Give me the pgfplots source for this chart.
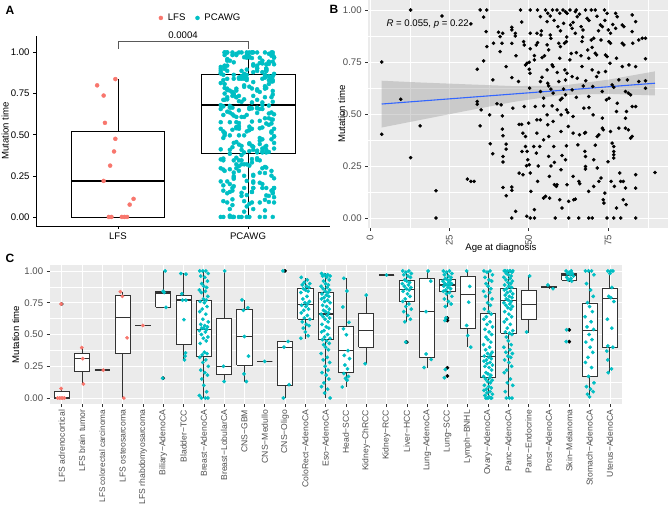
\documentclass[border=0pt]{standalone}
\usepackage{fontspec}
\setmainfont{Liberation Sans}
\usepackage{pgfplots}
\usepackage{pgfplotstable}
\pgfplotsset{compat=1.18}

\definecolor{lfsred}{HTML}{F8766D}
\definecolor{pcteal}{HTML}{00BFC4}
\definecolor{ggbg}{HTML}{EBEBEB}
\definecolor{gg30}{HTML}{4D4D4D}
\definecolor{ggline}{HTML}{333333}
\definecolor{ggblue}{HTML}{3366FF}
\newcommand{\gfont}{\fontsize{9.6}{11}\selectfont}

%% PCAWG samples: age at diagnosis, mutation time, jitter position for panel A
\pgfplotstableread{
age mt jx
3.7 .75 1.82
3.7 .403 2.07
9.7 .571 1.93
12.8 1.0 2.18
12.8 .29 1.86
15.8 .443 2.01
20.8 .131 2.14
20.8 0 1.79
22.7 .971 1.97
31.8 .933 2.11
30.7 .187 1.89
31.8 .176 2.20
32.8 .176 2.04
33.8 .715 1.84
33.8 .56 2.16
33.8 .547 1.91
34.7 .443 2.09
34.7 1.0 1.95
36.8 1.0 2.13
35 .52 1.81
35.8 .966 2.03
35.8 .755 1.88
36.8 .824 2.19
36.6 .896 1.99
37.7 .496 1.82
37.9 .357 2.07
38.7 .309 1.93
38.9 .84 2.18
38.7 .664 1.86
40 .549 2.01
40.5 .893 2.14
41 .872 1.79
41 .80 1.97
41.3 .544 2.11
41.6 .84 1.89
41.7 .491 2.20
41.7 .427 2.04
41.8 .888 1.84
41.9 .395 2.16
41.9 .296 1.91
41.9 .269 2.09
41.9 .147 1.95
42.9 .728 2.13
42.9 .355 1.81
42.9 .331 2.03
42.9 .107 1.88
44.7 .149 2.19
44.7 .133 1.99
44.7 .917 1.82
44.7 .904 2.07
44.7 0 1.93
44.7 .84 2.18
44.7 .675 1.86
45 .528 2.01
45.8 .888 2.14
45.8 .875 1.79
45.9 .032 1.97
46.8 .656 2.11
47 .45 1.89
47.8 .45 2.20
47 .216 2.04
47.4 1.0 1.84
47.8 .942 2.16
47.9 .32 1.91
48.2 .208 2.09
48.2 .408 1.95
48.4 .848 2.13
48.6 .832 1.81
48.6 .536 2.03
49 .736 1.88
49.5 .744 2.19
49.5 .32 1.99
49.7 .28 1.82
49 .392 2.07
49 .344 1.93
49.3 .251 2.18
49.4 .008 1.86
50.5 1.0 2.01
50.5 .888 2.14
50.5 .814 1.79
50.2 .715 1.97
50.4 .696 2.11
50.2 .749 1.89
50.3 .624 2.20
50.2 .256 2.04
50.5 .216 1.84
50.7 .128 2.16
50 .456 1.91
50.5 0 2.09
51.8 0 1.95
51.8 .04 2.13
51.6 .344 1.81
51.8 .781 2.03
51.8 .76 1.88
52.4 .832 2.19
52.8 .843 1.99
52.8 1.0 1.82
52.6 .888 2.07
52.1 .536 1.93
52.6 .472 2.18
52.6 .408 1.86
52.4 .312 2.01
52.8 .176 2.14
53.7 .656 1.79
53.7 .608 1.97
53.7 .472 2.11
53.5 .344 1.89
53.7 .968 2.20
53.9 .88 2.04
54.2 .771 1.84
54.2 .677 2.16
54.7 .576 1.91
54.7 .539 2.09
54.7 .376 1.95
55.3 .104 2.13
54.7 .096 1.81
55.3 1.0 2.03
56 .984 1.88
55.8 .944 2.19
55.8 .832 1.99
56.3 .808 1.82
55.8 .712 2.07
56 .648 1.93
56.3 .635 2.18
55.8 .496 1.86
56 .448 2.01
56.3 .392 2.14
56.3 .296 1.79
56.6 .096 1.97
56.8 .88 2.11
57 .864 1.89
56.8 .971 2.20
57.4 .736 2.04
57.7 .728 1.84
57.7 .6 2.16
57.4 .539 1.91
57.7 .464 2.09
57.9 .344 1.95
58.1 .267 2.13
58.1 .16 1.81
58.7 .152 2.03
58.9 .16 1.88
58.4 0 2.19
58.9 1.0 1.99
59.8 .984 1.82
59.2 .92 2.07
59.5 .84 1.93
60 .824 2.18
59.8 .768 1.86
59.5 .656 2.01
60 .568 2.14
60.5 .576 1.79
60.2 .496 1.97
60.2 .416 2.11
60.2 .232 1.89
59.8 .088 2.20
60.5 .048 2.04
60.8 1.0 1.84
61.6 .992 2.16
62.1 .984 1.91
61 .936 2.09
61.3 .84 1.95
61.9 .848 2.13
61.4 .712 1.81
62.1 .696 2.03
61.6 .664 1.88
61.6 .592 2.19
61.9 .52 1.99
62.3 .507 1.82
61.9 .347 2.07
61.6 .28 1.93
62.1 .16 2.18
62.6 0 1.86
62.6 .08 2.01
63.2 .928 2.14
63.7 .912 1.79
63.4 .791 1.97
63.7 .68 2.11
63.7 .616 1.89
64 .488 2.20
64 .408 2.04
64.2 .088 1.84
64.7 .091 2.16
64.7 .992 1.91
65.3 .968 2.09
64.7 .888 1.95
65 .795 2.13
65.3 .672 1.81
65.5 .352 2.03
65.8 .176 1.88
66.1 .165 2.19
65.8 0 1.99
66.5 .92 1.82
67.1 .904 2.07
66.8 .848 1.93
66.8 .728 2.18
67.2 .635 1.86
67.4 .528 2.01
67.6 .408 2.14
67.9 .411 1.79
67.7 .32 1.97
67.9 .296 2.11
67.9 .248 1.89
67.9 .235 2.20
67.9 1.0 2.04
68.4 .96 1.84
68.6 .808 2.16
68.9 .768 1.91
68.9 .584 2.09
68.9 .128 1.95
68.9 0 2.13
70 0 1.81
69.7 1.0 2.03
71 1.0 1.88
69.7 .856 2.19
70.5 .864 1.99
70 .712 1.82
70.2 .632 2.07
70.3 .496 1.93
70.5 .28 2.18
70.5 .152 1.86
71 .792 2.01
71.4 .784 2.14
71.4 .68 1.79
71.6 .392 1.97
72.1 .4 2.11
71.6 .24 1.89
72.1 .176 2.20
72.6 .928 2.04
73.2 .92 1.84
72.8 .856 2.16
73.2 .608 1.91
73.2 .48 2.09
73.2 .432 1.95
73.5 .424 2.13
72.8 .192 1.81
73.5 .088 2.03
73.7 .072 1.88
73.9 1.0 2.19
74.7 .984 1.99
74.2 .784 1.82
74.7 .776 2.07
74.2 .704 1.93
74.5 .568 2.18
75.3 .576 1.86
74.7 0 2.01
75.1 .904 2.14
75.8 .888 1.79
75.3 .848 1.97
75.8 .84 2.11
75.6 .744 1.89
75.8 .416 2.20
76 .176 2.04
76.3 .64 1.84
76.8 .629 2.16
76.3 .36 1.91
76.8 .344 2.09
76.8 .32 1.95
76.8 .304 2.13
76.8 .288 1.81
77 .152 2.03
76.8 0 1.88
77.4 .984 2.19
77.9 .968 1.99
77.4 .912 1.82
77.7 .768 2.07
77.9 .552 1.93
77.7 .512 2.18
77.7 .048 1.86
78.4 .664 2.01
78.4 .432 2.14
78.7 .216 1.79
79 .176 1.97
79.8 .176 2.11
79 0 1.89
79.5 .928 2.20
80 .92 2.04
79.5 .84 1.84
80 .832 2.16
79.5 .728 1.91
79.8 .088 2.09
80.5 .608 1.95
81.4 .6 2.13
80.5 .48 1.81
80.5 .432 2.03
81.4 .424 1.88
80.5 .144 2.19
80.7 .064 1.99
80.8 .512 1.82
81.1 .664 2.07
81.6 .736 1.93
82.1 .592 2.18
82.1 .384 1.86
82.6 .976 2.01
82.6 .896 2.14
82.6 .536 1.79
82.8 .84 1.97
82.6 .392 2.11
83.7 0 1.89
83.7 .536 2.20
83.7 .208 2.04
83.7 .144 1.84
83.7 .944 2.16
83.7 .728 1.91
84.7 .656 2.09
84.7 .856 1.95
85.8 .864 2.13
86.8 .864 1.81
86.8 .66 2.03
86.8 .624 1.88
86.8 .766 2.19
89.8 .219 1.99
57.5 1.0 1.82
63 1.0 2.07
65 1.0 1.93
66 .98 2.18
69 .95 1.86
71.5 .97 2.01
72 .9 2.14
60 .9 1.79
62 .87 1.97
58 .95 2.11
64 .94 1.89
67 .87 2.20
70 .82 2.04
74 .95 1.84
76.5 .93 2.16
66.5 .78 1.91
63 .76 2.09
59 .7 1.95
55 .78 2.13
57 .62 1.81
65 .58 2.03
69 .53 1.88
72 .7 2.19
61 .62 1.99
54 .9 1.82
68 .66 2.07
62.5 .44 1.93
59 .52 2.18
56.5 .2 1.86
66 .4 2.01
60.5 .3 2.14
71 .35 1.79
53 .25 1.97
64 .2 2.11
75 .27 1.89
74 .12 2.20
57 .25 2.04
46 .78 1.84
}\pcawg

% box from prepared quartiles: position, half width, lw, q1, median, q3, uw
\def\boxcol{ggline}
\newcommand{\ggbox}[7]{%
  \pgfmathsetmacro{\bl}{#1-#2}\pgfmathsetmacro{\br}{#1+#2}%
  \edef\doit{%
    \noexpand\addplot[draw=\boxcol, line width=0.7pt, forget plot]
      coordinates {(#1,#3)(#1,#4)};
    \noexpand\addplot[draw=\boxcol, line width=0.7pt, forget plot]
      coordinates {(#1,#6)(#1,#7)};
    \noexpand\addplot[draw=\boxcol, fill=white, line width=0.7pt, forget plot]
      coordinates {(\bl,#4)(\br,#4)(\br,#6)(\bl,#6)(\bl,#4)};
    \noexpand\addplot[draw=\boxcol, line width=1.4pt, forget plot]
      coordinates {(\bl,#5)(\br,#5)};
  }\doit}

\pgfplotsset{
  ggtheme/.style={
    scale only axis, anchor=south west,
    axis background/.style={fill=ggbg},
    axis line style={draw=none},
    tick align=outside, major tick length=2.8pt, minor tick length=0pt,
    tick style={ggline, line width=0.5pt},
    xtick pos=left, ytick pos=left,
    tick label style={font=\gfont, text=gg30},
    label style={font=\gfont},
    major grid style={white, line width=0.6pt},
    minor grid style={white, line width=0.3pt},
    ymin=-0.05, ymax=1.05,
    ytick={0,0.25,0.5,0.75,1}, yticklabels={0.00,0.25,0.50,0.75,1.00},
    minor ytick={0.125,0.375,0.625,0.875},
  },
}

\begin{document}
\begin{tikzpicture}
\useasboundingbox (0,0) rectangle (668pt,506pt);

\node[font=\fontsize{12}{14}\selectfont\bfseries] at (10pt,496pt) {A};
\node[font=\fontsize{12}{14}\selectfont\bfseries] at (334pt,497pt) {B};
\node[font=\fontsize{12}{14}\selectfont\bfseries] at (10pt,248pt) {C};

%% A: LFS vs PCAWG
\begin{axis}[at={(36pt,280pt)}, anchor=south west, scale only axis,
  width=294pt, height=190pt,
  xmin=0.37, xmax=2.63, ymin=-0.055, ymax=1.10, clip=false,
  axis x line*=bottom, axis y line*=left,
  axis line style={-, line width=0.5pt},
  tick align=outside, major tick length=3pt, tick style={black, line width=0.5pt},
  xtick={1,2}, xticklabels={LFS,PCAWG},
  ytick={0,0.25,0.5,0.75,1}, yticklabels={0.00,0.25,0.50,0.75,1.00},
  tick label style={font=\gfont},
  ylabel={Mutation time},
  ylabel style={font=\gfont, at={(axis description cs:-0.105,0.5)}, anchor=center},
  legend style={at={(axis description cs:0.56,1.095)}, anchor=center,
    draw=none, fill=none, font=\gfont, legend columns=2,
    /tikz/every even column/.append style={column sep=8pt}},
]
\def\boxcol{black}
\ggbox{1}{0.36}{0}{0}{0.219}{0.521}{0.838}
\ggbox{2}{0.36}{0}{0.389}{0.681}{0.866}{1.0}
\addplot[only marks, mark=*, mark size=2pt, lfsred] coordinates {
  (0.98,.838)(0.84,.80)(0.89,.738)(0.90,.572)(0.98,.475)(0.97,.398)
  (0.94,.312)(0.89,.219)(1.12,.11)(1.09,.075)
  (0.93,0)(0.95,0)(1.03,0)(1.05,0)(1.07,0)};
\addlegendentry{\hspace{3pt}LFS}
\addplot[only marks, mark=*, mark size=2pt, pcteal] table[x=jx, y=mt] {\pcawg};
\addlegendentry{\hspace{3pt}PCAWG}
\draw[gray!70!black, line width=0.5pt] (axis cs:1,1.022) -- (axis cs:1,1.071)
  -- (axis cs:2,1.071) -- (axis cs:2,1.022);
\node[font=\gfont, above, inner sep=1.5pt] at (axis cs:1.5,1.071) {0.0004};
\end{axis}

%% B: age vs mutation time
\begin{axis}[ggtheme, at={(368pt,277.6pt)}, width=300pt, height=228.8pt,
  xmin=-0.63, xmax=93.9,
  xtick={0,25,50,75}, xticklabels={0,25,50,75},
  minor xtick={12.5,37.5,62.5,87.5},
  grid=both,
  xticklabel style={rotate=90, anchor=east},
  xlabel={Age at diagnosis},
  xlabel style={at={(axis description cs:0.443,-0.086)}, anchor=center},
  ylabel={Mutation time},
  ylabel style={at={(axis description cs:-0.088,0.5)}, anchor=center},
]
\addplot[only marks, mark=*, mark size=1.6pt, black] table[x=age, y=mt] {\pcawg};
\addplot[draw=none, fill=black!40, fill opacity=0.4] coordinates {
  (3.7,.435)(15,.469)(30,.514)(45,.5575)(60,.5912)(75,.597)(89.8,.589)
  (89.8,.705)(75,.6648)(60,.6356)(45,.6343)(30,.643)(15,.652)(3.7,.660)};
\addplot[ggblue, line width=1.1pt] coordinates {(3.7,.548)(89.8,.648)};
\node[anchor=west, font=\gfont] at (axis cs:4.1,0.93)
  {\textit{R} = 0.055, \textit{p} = 0.22};
\end{axis}

%% C: mutation time by tumour type
\begin{axis}[ggtheme, at={(49.5pt,101.6pt)}, width=572.5pt, height=139.8pt,
  xmin=0.4, xmax=28.6,
  xtick={1,...,28},
  xticklabels={LFS adrenocortical,LFS brain tumor,
    {\fontsize{8.2}{10}\selectfont LFS colorectal carcinoma},
    LFS osteosarcoma,LFS rhabdomyosarcoma,Biliary−AdenoCA,Bladder−TCC,
    Breast−AdenoCA,Breast−LobularCA,CNS−GBM,CNS−Medullo,CNS−Oligo,
    ColoRect−AdenoCA,Eso−AdenoCA,Head−SCC,Kidney−ChRCC,Kidney−RCC,
    Liver−HCC,Lung−AdenoCA,Lung−SCC,Lymph−BNHL,Ovary−AdenoCA,
    Panc−AdenoCA,Panc−Endocrine,Prost−AdenoCA,Skin−Melanoma,
    Stomach−AdenoCA,Uterus−AdenoCA},
  xticklabel style={rotate=90, anchor=east, inner sep=2.6pt,
    font=\fontsize{8.6}{10}\selectfont},
  xmajorgrids, ymajorgrids, yminorgrids,
  ylabel={Mutation time},
  ylabel style={at={(axis description cs:-0.059,0.5)}, anchor=center},
]
\def\boxcol{ggline}
\ggbox{1}{0.375}{0}{0}{0.005}{0.056}{0.074}
\ggbox{2}{0.375}{.111}{.209}{.31}{.354}{.397}
\ggbox{3}{0.375}{.22}{.22}{.22}{.22}{.22}
\ggbox{4}{0.375}{0}{.352}{.635}{.81}{.836}
\ggbox{5}{0.375}{.571}{.571}{.571}{.571}{.571}
\ggbox{6}{0.375}{.714}{.714}{.828}{.836}{1.0}
\ggbox{7}{0.375}{.299}{.42}{.77}{.81}{.981}
\ggbox{8}{0.375}{0}{.331}{.537}{.767}{1.0}
\ggbox{9}{0.375}{.13}{.188}{.249}{.627}{1.0}
\ggbox{10}{0.375}{.124}{.257}{.484}{.70}{.772}
\ggbox{11}{0.375}{.288}{.288}{.288}{.288}{.288}
\ggbox{12}{0.375}{0}{.10}{.40}{.444}{.444}
\ggbox{13}{0.375}{.468}{.622}{.735}{.86}{.947}
\ggbox{14}{0.375}{0}{.463}{.66}{.828}{.98}
\ggbox{15}{0.375}{.087}{.201}{.373}{.566}{.942}
\ggbox{16}{0.375}{.27}{.40}{.532}{.669}{.81}
\ggbox{17}{0.375}{.968}{.968}{.968}{.968}{.968}
\ggbox{18}{0.375}{.60}{.76}{.853}{.93}{1.0}
\ggbox{19}{0.375}{.235}{.32}{.679}{.94}{1.0}
\ggbox{20}{0.375}{.72}{.836}{.889}{.932}{1.0}
\ggbox{21}{0.375}{.40}{.55}{.816}{.96}{1.0}
\ggbox{22}{0.375}{0}{.162}{.326}{.67}{1.0}
\ggbox{23}{0.375}{0}{.512}{.766}{.866}{1.0}
\ggbox{24}{0.375}{.515}{.622}{.737}{.844}{.96}
\ggbox{25}{0.375}{.86}{.87}{.875}{.88}{.89}
\ggbox{26}{0.375}{.91}{.926}{.969}{.981}{1.0}
\ggbox{27}{0.375}{0}{.167}{.533}{.749}{1.0}
\ggbox{28}{0.375}{.2}{.402}{.784}{.867}{1.0}
% outliers
\addplot[only marks, mark=*, mark size=1.7pt, black, forget plot] coordinates {
  (1,.74)(6,.156)(12,1.0)(18,.44)(20,.63)(20,.61)(20,.238)(20,.174)
  (26,.537)(26,.444)};
% LFS tumours
\addplot[only marks, mark=*, mark size=1.7pt, lfsred] coordinates {
  (0.97,.74)(0.97,.075)(0.80,0)(0.89,0)(0.97,0)(1.05,0)(1.13,0)
  (1.99,.397)(2.04,.31)(2.07,.111)
  (3.05,.22)
  (3.89,.836)(3.99,.80)(4.22,.474)(4.06,0)
  (5.0,.571)};
% PCAWG tumours
\addplot[only marks, mark=*, mark size=1.7pt, pcteal] coordinates {
  (6.1,1)(6.0,.84)(6.05,.83)(6.14,.714)(5.97,.156)
  (6.87,.98)(7.12,.975)(6.92,.82)(7.12,.77)(6.95,.77)(7.02,.617)(7.1,.355)(7.08,.33)(7.05,.30)
  (7.80,1)(8.10,1)(7.95,1)(8.22,.98)(7.85,.96)(8.05,.95)(8.18,.92)(7.90,.90)(8.00,.88)(8.14,.87)
  (7.78,.85)(8.08,.84)(7.88,.83)(8.20,.80)(7.98,.78)(8.12,.77)(7.82,.76)(8.03,.75)(8.16,.72)(7.92,.70)
  (7.80,.68)(8.10,.66)(7.95,.62)(8.22,.60)(7.85,.58)(8.05,.57)(8.18,.56)(7.90,.55)(8.00,.55)(8.14,.54)
  (7.78,.53)(8.08,.52)(7.88,.50)(8.20,.48)(7.98,.47)(8.12,.45)(7.82,.43)(8.03,.36)(8.16,.35)(7.92,.34)
  (7.80,.32)(8.10,.30)(7.95,.28)(8.22,.25)(7.85,.22)(8.05,.20)(8.18,.18)(7.90,.15)(8.00,.10)(8.14,.05)
  (7.78,.02)(8.08,0)(7.88,0)(8.20,0)
  (9.03,1)(8.97,.25)(9.0,.13)
  (9.88,.772)(10.17,.71)(9.95,.69)(10.0,.484)(10.2,.33)(9.98,.19)(10.1,.13)
  (11.0,.288)
  (11.9,1)(12.15,.445)(11.95,.40)(12.2,.105)(11.92,0)
  (12.80,.95)(13.10,.93)(12.95,.91)(13.22,.90)(12.85,.89)(13.05,.88)(13.18,.87)(12.90,.86)(13.00,.85)(13.14,.84)
  (12.78,.83)(13.08,.80)(12.88,.78)(13.20,.76)(12.98,.75)(13.12,.74)(12.82,.73)(13.03,.72)(13.16,.70)(12.92,.69)
  (12.80,.67)(13.10,.65)(12.95,.63)(13.22,.62)(12.85,.60)(13.05,.58)(13.18,.57)(12.90,.55)(13.00,.52)(13.14,.49)
  (12.78,.47)
  (13.80,.98)(14.10,.97)(13.95,.97)(14.22,.96)(13.85,.96)(14.05,.95)(14.18,.93)(13.90,.92)(14.00,.90)(14.14,.89)
  (13.78,.88)(14.08,.87)(13.88,.86)(14.20,.85)(13.98,.84)(14.12,.83)(13.82,.82)(14.03,.81)(14.16,.80)(13.92,.79)
  (13.80,.78)(14.10,.77)(13.95,.76)(14.22,.75)(13.85,.73)(14.05,.72)(14.18,.70)(13.90,.69)(14.00,.68)(14.14,.67)
  (13.78,.66)(14.08,.65)(13.88,.64)(14.20,.63)(13.98,.62)(14.12,.60)(13.82,.58)(14.03,.56)(14.16,.55)(13.92,.53)
  (13.80,.52)(14.10,.50)(13.95,.48)(14.22,.47)(13.85,.46)(14.05,.45)(14.18,.43)(13.90,.42)(14.00,.40)(14.14,.38)
  (13.78,.35)(14.08,.32)(13.88,.30)(14.20,.28)(13.98,.25)(14.12,.22)(13.82,.20)(14.03,.18)(14.16,.15)(13.92,.12)
  (13.80,.09)(14.10,.07)(13.95,.04)(14.22,0)
  (14.90,.942)(15.05,.842)(14.85,.717)(15.15,.596)(14.88,.545)(15.02,.498)(15.10,.373)(14.92,.336)
  (15.18,.31)(14.95,.26)(15.08,.23)(14.90,.193)(15.12,.17)(14.98,.154)(15.06,.14)(14.82,.087)
  (16.0,.81)(15.95,.27)
  (17.0,.968)
  (17.80,1)(18.10,1)(17.95,.99)(18.22,.98)(17.85,.97)(18.05,.96)(18.18,.95)(17.90,.93)(18.00,.92)(18.14,.91)
  (17.78,.90)(18.08,.89)(17.88,.88)(18.20,.87)(17.98,.86)(18.12,.85)(17.82,.84)(18.03,.82)(18.16,.80)(17.92,.78)
  (17.80,.76)(18.10,.74)(17.95,.72)(18.22,.70)(17.85,.68)(18.05,.65)(18.18,.62)(17.90,.60)(17.95,.44)
  (19.05,1)(19.18,.92)(18.95,.68)(18.95,.347)(19.2,.304)(18.85,.24)
  (19.80,1)(20.10,1)(19.95,.99)(20.22,.98)(19.85,.97)(20.05,.96)(20.18,.95)(19.90,.94)(20.00,.93)(20.14,.93)
  (19.78,.92)(20.08,.91)(19.88,.90)(20.20,.90)(19.98,.89)(20.12,.89)(19.82,.88)(20.03,.87)(20.16,.86)(19.92,.85)
  (19.80,.84)(20.10,.83)(19.95,.82)(20.22,.80)(19.85,.78)(20.05,.76)(20.18,.74)(19.90,.72)
  (19.92,.63)(19.88,.61)(19.90,.225)(19.85,.16)
  (20.95,1)(21.1,.878)(21.05,.754)(20.95,.571)(21.0,.492)(21.15,.40)
  (21.80,1)(22.10,1)(21.95,.99)(22.22,.97)(21.85,.95)(22.05,.93)(22.18,.92)(21.90,.90)(22.00,.88)(22.14,.86)
  (21.78,.84)(22.08,.83)(21.88,.80)(22.20,.78)(21.98,.75)(22.12,.73)(21.82,.70)(22.03,.68)(22.16,.66)(21.92,.64)
  (21.80,.62)(22.10,.60)(21.95,.58)(22.22,.56)(21.85,.54)(22.05,.52)(22.18,.50)(21.90,.48)(22.00,.46)(22.14,.44)
  (21.78,.42)(22.08,.40)(21.88,.38)(22.20,.36)(21.98,.35)(22.12,.34)(21.82,.33)(22.03,.32)(22.16,.31)(21.92,.30)
  (21.80,.29)(22.10,.28)(21.95,.27)(22.22,.26)(21.85,.25)(22.05,.24)(22.18,.22)(21.90,.20)(22.00,.19)(22.14,.18)
  (21.78,.17)(22.08,.16)(21.88,.15)(22.20,.14)(21.98,.13)(22.12,.12)(21.82,.10)(22.03,.09)(22.16,.08)(21.92,.07)
  (21.80,.06)(22.10,.05)(21.95,.04)(22.22,.03)(21.85,.02)(22.05,.01)(22.18,0)(21.90,0)(22.00,0)(22.14,0)
  (22.80,1)(23.10,1)(22.95,1)(23.22,1)(22.85,1)(23.05,1)(23.18,.99)(22.90,.98)(23.00,.97)(23.14,.96)
  (22.78,.95)(23.08,.94)(22.88,.93)(23.20,.92)(22.98,.91)(23.12,.90)(22.82,.89)(23.03,.88)(23.16,.87)(22.92,.86)
  (22.80,.85)(23.10,.84)(22.95,.83)(23.22,.82)(22.85,.81)(23.05,.80)(23.18,.79)(22.90,.78)(23.00,.77)(23.14,.76)
  (22.78,.75)(23.08,.74)(22.88,.73)(23.20,.72)(22.98,.71)(23.12,.70)(22.82,.68)(23.03,.66)(23.16,.64)(22.92,.62)
  (22.80,.60)(23.10,.58)(22.95,.55)(23.22,.53)(22.85,.52)(23.05,.51)(23.18,.50)(22.90,.48)(23.00,.45)(23.14,.42)
  (22.78,.40)(23.08,.38)(22.88,.36)(23.20,.35)(22.98,.33)(23.12,.32)(22.82,.30)(23.03,.28)(23.16,.25)(22.92,.22)
  (22.80,.20)(23.10,.15)(22.95,.12)(23.22,.10)(22.85,.05)(23.05,0)(23.18,0)(22.90,0)
  (24.05,.96)(23.9,.52)
  (24.95,.89)(25.2,.86)
  (25.85,1)(26.1,1)(26.0,.99)(26.15,.98)(25.92,.98)(26.05,.97)(26.2,.96)(25.88,.95)(26.08,.94)(25.95,.93)
  (26.12,.92)(25.87,.537)(25.85,.444)
  (26.80,1)(27.10,1)(26.95,1)(27.22,.97)(26.85,.90)(27.05,.85)(27.18,.80)(26.90,.75)(27.00,.72)(27.14,.68)
  (26.78,.64)(27.08,.60)(26.88,.56)(27.20,.54)(26.98,.50)(27.12,.46)(26.82,.44)(27.03,.40)(27.16,.36)(26.92,.32)
  (26.80,.28)(27.10,.24)(26.95,.17)(27.22,.12)(26.85,.09)(27.05,.07)(27.18,.05)(26.90,.03)(27.00,.01)
  (27.9,1)(28.05,1)(28.15,1)(28.0,.98)(28.1,.87)(27.95,.80)(28.05,.79)(28.2,.76)(27.88,.62)(28.1,.55)
  (27.9,.41)(28.15,.40)(27.85,.37)(27.9,.30)(28.08,.23)(27.92,.20)};
\end{axis}
\end{tikzpicture}
\end{document}
